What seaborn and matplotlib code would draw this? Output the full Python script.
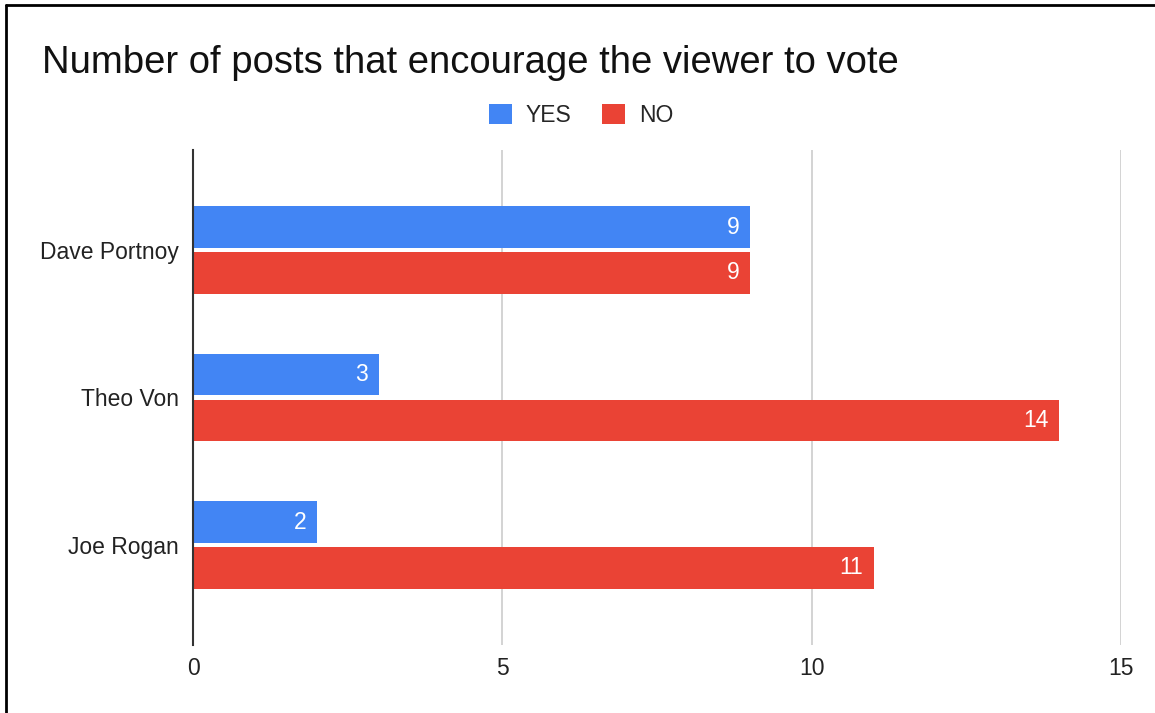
import matplotlib
matplotlib.use("Agg")
import matplotlib.pyplot as plt
from matplotlib.lines import Line2D
from matplotlib.patches import Patch
import seaborn as sns
import pandas as pd

# Data
hosts = ["Dave Portnoy", "Theo Von", "Joe Rogan"]
yes_counts = [9, 3, 2]
no_counts = [9, 14, 11]
series_names = ["YES", "NO"]
x_ticks = [0, 5, 10, 15]

df = pd.DataFrame({
    "host": hosts * 2,
    "count": yes_counts + no_counts,
    "answer": ["YES"] * len(hosts) + ["NO"] * len(hosts),
})

palette = {"YES": "#4285F4", "NO": "#EA4335"}

sns.set_theme(style="white")
plt.rcParams["font.family"] = ["Liberation Sans", "DejaVu Sans"]

fig = plt.figure(figsize=(11.55, 7.13), dpi=100)
ax = fig.add_axes([0.1671, 0.0954, 0.8035, 0.6942])

sns.barplot(data=df, y="host", x="count", hue="answer", order=hosts,
            hue_order=series_names, palette=palette, width=0.62, gap=0.09,
            saturation=1, legend=False, ax=ax)

# value labels inside bar ends
for container in ax.containers:
    for bar in container:
        bar.set_linewidth(0)
        w = bar.get_width()
        ax.annotate(f"{int(w)}", (w, bar.get_y() + bar.get_height() / 2),
                    xytext=(-7.5, 0), textcoords="offset points",
                    ha="right", va="center", color="white", fontsize=16.5)

ax.set_xlim(0, 15)
ax.set_ylim(2.678, -0.678)
ax.set_xticks(x_ticks)
ax.set_xticklabels([str(t) for t in x_ticks])
ax.grid(axis="x", color="#cccccc", linewidth=1.2)
ax.set_axisbelow(True)
for s in ["top", "right", "bottom"]:
    ax.spines[s].set_visible(False)
ax.spines["left"].set_color("#333333")
ax.spines["left"].set_linewidth(1.5)
ax.spines["left"].set_zorder(3)
ax.tick_params(axis="both", length=0, labelsize=16.5, colors="#222222")
ax.tick_params(axis="x", pad=9)
ax.tick_params(axis="y", pad=10)
ax.set_xlabel("")
ax.set_ylabel("")

fig.text(0.0364, 0.912, "Number of posts that encourage the viewer to vote",
         fontsize=27.5, color="#111111", ha="left", va="center")

handles = [Patch(facecolor=palette[n], edgecolor="none") for n in series_names]
fig.legend(handles, series_names, loc="center", bbox_to_anchor=(0.503, 0.838),
           ncol=2, frameon=False, fontsize=16.5, handlelength=1.0,
           handleheight=1.0, columnspacing=1.35, handletextpad=0.6)

# frame lines along left and top edges
fig.add_artist(Line2D([0.0048, 0.0048], [0, 0.993], color="black", linewidth=2,
                      transform=fig.transFigure))
fig.add_artist(Line2D([0.0048, 1], [0.993, 0.993], color="black", linewidth=2,
                      transform=fig.transFigure))

fig.savefig("out.png", dpi=100, facecolor="white")
